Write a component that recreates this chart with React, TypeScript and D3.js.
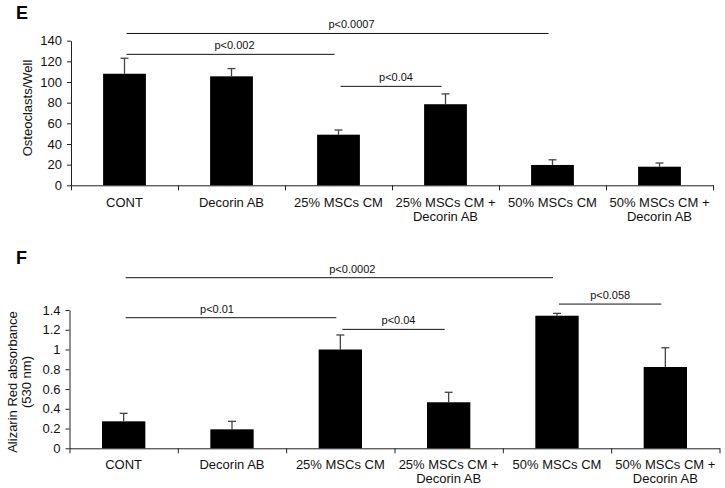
import React, { useEffect, useRef } from "react";
import * as d3 from "d3";

const categories = [
  ["CONT"],
  ["Decorin AB"],
  ["25% MSCs CM"],
  ["25% MSCs CM +", "Decorin AB"],
  ["50% MSCs CM"],
  ["50% MSCs CM +", "Decorin AB"]
];

// panel E: osteoclasts per well
const osteoMeans = [108, 105.5, 49, 78.5, 19.7, 18];
const osteoErrors = [15, 7.5, 4.5, 10, 5, 3.6];
const osteoTicks = [0, 20, 40, 60, 80, 100, 120, 140];
const osteoSig = [
  { from: 0, to: 4, level: 147, label: "p<0.0007", dx: 14 },
  { from: 0, to: 2, level: 126.8, label: "p<0.002", dx: 4 },
  { from: 2, to: 3, level: 95.8, label: "p<0.04", dx: 5 }
];

// panel F: alizarin red absorbance
const alizMeans = [0.273, 0.192, 1.0, 0.466, 1.342, 0.823];
const alizErrors = [0.081, 0.081, 0.147, 0.101, 0.024, 0.195];
const alizTicks = [0, 0.2, 0.4, 0.6, 0.8, 1, 1.2, 1.4];
const alizSig = [
  { from: 0, to: 4, level: 1.727, label: "p<0.0002", dx: 13 },
  { from: 0, to: 2, level: 1.322, label: "p<0.01", dx: -14 },
  { from: 2, to: 3, level: 1.204, label: "p<0.04", dx: 5 },
  { from: 4, to: 5, level: 1.46, label: "p<0.058", dx: 0 }
];

const FONT = "'Liberation Sans', Arial, sans-serif";

function drawPanel(svg, opts) {
  const { letter, letterY, x0, x1, yBase, yTop, maxV, means, errors, ticks, sig, yLabel, catY } = opts;

  const g = svg.append("g");

  const x = d3
    .scaleBand()
    .domain(d3.range(categories.length))
    .range([x0, x1])
    .paddingInner(0.6)
    .paddingOuter(0.3);
  const xEdge = d3.scaleLinear().domain([0, categories.length]).range([x0, x1]);
  const y = d3.scaleLinear().domain([0, maxV]).range([yBase, yTop]);

  g.append("text")
    .attr("x", 16)
    .attr("y", letterY)
    .attr("font-family", FONT)
    .attr("font-weight", "bold")
    .attr("font-size", 18)
    .text(letter);

  // y axis
  const yAxis = g
    .append("g")
    .attr("transform", `translate(${x0},0)`)
    .call(d3.axisLeft(y).tickValues(ticks).tickSize(4).tickSizeOuter(0).tickPadding(5).tickFormat(d3.format("")));
  yAxis.select(".domain").attr("stroke", "#222");
  yAxis.selectAll(".tick line").attr("stroke", "#222");
  yAxis.selectAll("text").attr("font-family", FONT).attr("font-size", 13).attr("fill", "#111");

  // x axis
  const xAxis = g
    .append("g")
    .attr("transform", `translate(0,${yBase})`)
    .call(d3.axisBottom(xEdge).tickValues(d3.range(categories.length + 1)).tickSize(5).tickSizeOuter(0).tickFormat(() => ""));
  xAxis.select(".domain").attr("stroke", "#222");
  xAxis.selectAll(".tick line").attr("stroke", "#222");

  // category labels
  categories.forEach((lines, i) => {
    const t = g
      .append("text")
      .attr("x", x(i) + x.bandwidth() / 2)
      .attr("y", catY)
      .attr("text-anchor", "middle")
      .attr("font-family", FONT)
      .attr("font-size", 13)
      .attr("fill", "#111");
    lines.forEach((l, k) => {
      t.append("tspan")
        .attr("x", x(i) + x.bandwidth() / 2)
        .attr("dy", k === 0 ? 0 : 14)
        .text(l);
    });
  });

  // error bars
  means.forEach((m, i) => {
    const cx = x(i) + x.bandwidth() / 2;
    g.append("line")
      .attr("x1", cx).attr("x2", cx)
      .attr("y1", y(m)).attr("y2", y(m + errors[i]))
      .attr("stroke", "#444").attr("stroke-width", 1.3);
    g.append("line")
      .attr("x1", cx - 4).attr("x2", cx + 4)
      .attr("y1", y(m + errors[i])).attr("y2", y(m + errors[i]))
      .attr("stroke", "#444").attr("stroke-width", 1.3);
  });

  // bars
  g.selectAll("rect.bar")
    .data(means)
    .enter()
    .append("rect")
    .attr("class", "bar")
    .attr("x", (d, i) => x(i))
    .attr("width", x.bandwidth())
    .attr("y", d => y(d))
    .attr("height", d => yBase - y(d))
    .attr("fill", "#000");

  // significance brackets
  sig.forEach(s => {
    const a = x(s.from) + x.bandwidth() / 2 + 2;
    const b = x(s.to) + x.bandwidth() / 2 - 4;
    g.append("line")
      .attr("x1", a).attr("x2", b)
      .attr("y1", y(s.level)).attr("y2", y(s.level))
      .attr("stroke", "#111").attr("stroke-width", 1);
    g.append("text")
      .attr("x", (a + b) / 2 + s.dx)
      .attr("y", y(s.level) - 5)
      .attr("text-anchor", "middle")
      .attr("font-family", FONT)
      .attr("font-size", 11)
      .attr("fill", "#111")
      .text(s.label);
  });

  // y label
  const lab = g
    .append("text")
    .attr("transform", `translate(${yLabel.x},${yLabel.y}) rotate(-90)`)
    .attr("text-anchor", "middle")
    .attr("font-family", FONT)
    .attr("font-size", 13)
    .attr("fill", "#111");
  yLabel.lines.forEach((l, k) => {
    lab.append("tspan").attr("x", 0).attr("dy", k === 0 ? 0 : 14).text(l);
  });
}

export default function App() {
  const ref = useRef(null);

  useEffect(() => {
    const svg = d3.select(ref.current);
    svg.selectAll("*").remove();

    drawPanel(svg, {
      letter: "E",
      letterY: 19,
      x0: 71,
      x1: 713,
      yBase: 185.3,
      yTop: 40.7,
      maxV: 140,
      means: osteoMeans,
      errors: osteoErrors,
      ticks: osteoTicks,
      sig: osteoSig,
      catY: 206.5,
      yLabel: { x: 32, y: 108, lines: ["Osteoclasts/Well"] }
    });

    drawPanel(svg, {
      letter: "F",
      letterY: 264,
      x0: 69.5,
      x1: 719.5,
      yBase: 448.3,
      yTop: 310,
      maxV: 1.4,
      means: alizMeans,
      errors: alizErrors,
      ticks: alizTicks,
      sig: alizSig,
      catY: 469,
      yLabel: { x: 17, y: 382, lines: ["Alizarin Red absorbance", "(530 nm)"] }
    });
  }, []);

  return (
    <svg
      ref={ref}
      width={725}
      height={488}
      style={{ position: "absolute", left: 0, top: 0, background: "#fff" }}
    />
  );
}
